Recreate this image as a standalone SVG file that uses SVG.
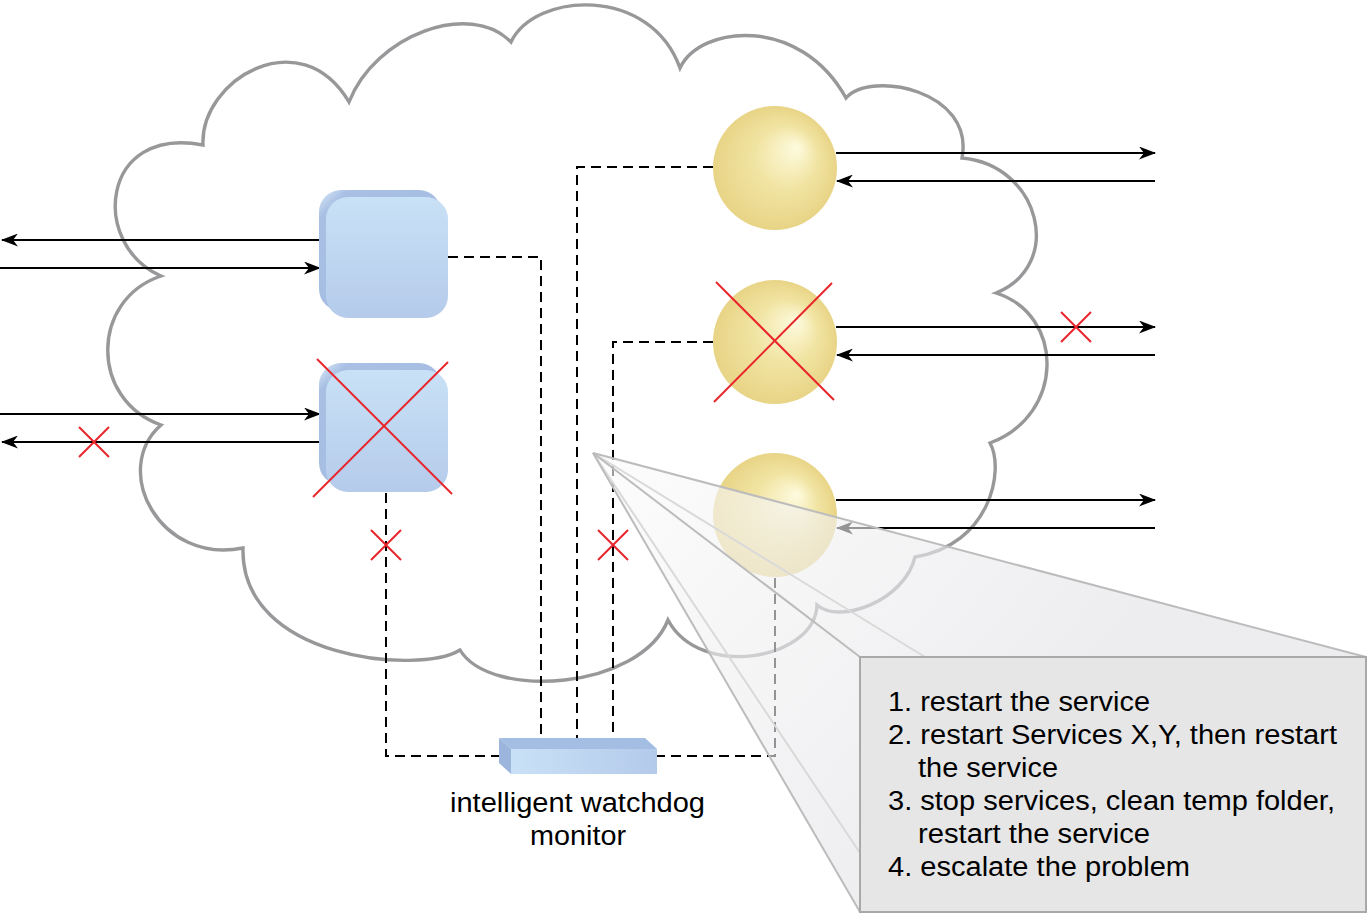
<svg xmlns="http://www.w3.org/2000/svg" width="1368" height="914" viewBox="0 0 1368 914">
<defs>
<style>
.cloud{fill:#fff;stroke:#98989a;stroke-width:3.4;stroke-linejoin:miter}
.arr{stroke:#000;stroke-width:2;fill:none;marker-end:url(#ah)}
.dash{stroke:#000;stroke-width:2;fill:none;stroke-dasharray:10 6}
.rx{stroke:#e8262b;stroke-width:2;fill:none}
.edge{stroke:#bcbcbc;stroke-width:2;fill:none}
.edge2{stroke:#d9d9d9;stroke-width:2;fill:none}
.txt{font-family:"Liberation Sans",Arial,Helvetica,sans-serif;font-size:27px;fill:#000}
</style>
<marker id="ah" markerUnits="userSpaceOnUse" markerWidth="17" markerHeight="13" refX="16" refY="6.5" orient="auto">
<path d="M0,0 L17,6.5 L0,13 L5,6.5 Z" fill="#000"/>
</marker>
<linearGradient id="cubeFront" x1="0" y1="0" x2="0" y2="1">
<stop offset="0" stop-color="#c9e1f6"/>
<stop offset="1" stop-color="#b5cbeb"/>
</linearGradient>
<linearGradient id="cubeBack" x1="0" y1="0" x2="1" y2="1">
<stop offset="0" stop-color="#dcebf9"/>
<stop offset="0.12" stop-color="#a9c0e4"/>
<stop offset="1" stop-color="#a3bbe1"/>
</linearGradient>
<radialGradient id="sph" cx="0.5" cy="0.5" r="0.5" fx="0.68" fy="0.33">
<stop offset="0" stop-color="#fefbdf"/>
<stop offset="0.5" stop-color="#f1e4a3"/>
<stop offset="1" stop-color="#e8d486"/>
</radialGradient>
<linearGradient id="wdFront" x1="0" y1="0" x2="1" y2="0">
<stop offset="0" stop-color="#c9e1f6"/>
<stop offset="1" stop-color="#b4caeb"/>
</linearGradient>
<linearGradient id="fan" gradientUnits="userSpaceOnUse" x1="593" y1="453" x2="1000" y2="800">
<stop offset="0" stop-color="#fbfbfb"/>
<stop offset="1" stop-color="#e2e1e5"/>
</linearGradient>
</defs>

<g id="cloud">
<path class="cloud" d="M161,276 C90,245 100,125 203,145 C200,80 300,20 349,102 C375,35 470,0 511,42 C535,-8 650,-15 680,68 C700,25 800,15 846,98 C870,70 975,90 962,158 C1040,165 1065,265 996,293 C1065,315 1065,415 990,443 C1005,470 990,545 915,557 C905,600 840,625 817,605 C815,660 700,680 668,620 C640,690 490,700 460,650 C420,675 240,660 243,548 C160,565 110,470 161,425 C90,400 90,300 161,276 Z"/>
</g>

<g id="connectors">
<line class="arr" x1="320" y1="240" x2="2" y2="240"/>
<line class="arr" x1="0" y1="268" x2="320" y2="268"/>
<line class="arr" x1="0" y1="414" x2="320" y2="414"/>
<line class="arr" x1="320" y1="442" x2="2" y2="442"/>
<line class="arr" x1="836" y1="153" x2="1155" y2="153"/>
<line class="arr" x1="1155" y1="181" x2="837" y2="181"/>
<line class="arr" x1="836" y1="327" x2="1155" y2="327"/>
<line class="arr" x1="1155" y1="355" x2="837" y2="355"/>
<line class="arr" x1="836" y1="500" x2="1155" y2="500"/>
<line class="arr" x1="1155" y1="528" x2="837" y2="528"/>
<path class="dash" d="M448,257 H541 V743"/>
<path class="dash" d="M713,167 H577 V743"/>
<path class="dash" d="M713,342 H613 V743"/>
<path class="dash" d="M386,493 V756 H505"/>
<path class="dash" d="M775,578 V756 H657"/>
</g>

<g id="node-cube1">
<rect x="319" y="190" width="122" height="121" rx="22" fill="url(#cubeBack)"/>
<rect x="326" y="197" width="122" height="121" rx="22" fill="url(#cubeFront)"/>
</g>

<g id="node-cube2">
<rect x="319" y="363" width="122" height="122" rx="22" fill="url(#cubeBack)"/>
<rect x="326" y="370" width="122" height="122" rx="22" fill="url(#cubeFront)"/>
<line class="rx" x1="317" y1="359" x2="452" y2="494"/>
<line class="rx" x1="448" y1="362" x2="313" y2="497"/>
</g>

<g id="node-sphere1">
<circle cx="775" cy="168" r="62" fill="url(#sph)"/>
</g>

<g id="node-sphere2">
<circle cx="775" cy="342" r="62" fill="url(#sph)"/>
<line class="rx" x1="716" y1="282" x2="834" y2="400"/>
<line class="rx" x1="832" y1="283" x2="714" y2="402"/>
</g>

<g id="node-sphere3">
<circle cx="775" cy="515" r="62" fill="url(#sph)"/>
</g>

<g id="failure-marks">
<path class="rx" d="M79,427 L109,457 M109,427 L79,457"/>
<path class="rx" d="M371,530 L401,560 M401,530 L371,560"/>
<path class="rx" d="M598,530 L628,560 M628,530 L598,560"/>
<path class="rx" d="M1061,312 L1091,342 M1091,312 L1061,342"/>
</g>

<g id="node-watchdog">
<polygon points="499,738 645,738 657,749 511,749" fill="#a3bde3"/>
<polygon points="499,738 511,749 511,774 499,763" fill="#9cb5dc"/>
<rect x="511" y="749" width="146" height="25" fill="url(#wdFront)"/>
<text class="txt" x="577.5" y="812" text-anchor="middle" textLength="255" lengthAdjust="spacingAndGlyphs">intelligent watchdog</text>
<text class="txt" x="578" y="845" text-anchor="middle" textLength="96" lengthAdjust="spacingAndGlyphs">monitor</text>
</g>

<g id="callout">
<path d="M593,453 L1366,657 L860,657 L860,912 Z" fill="url(#fan)" fill-opacity="0.62"/>
<line class="edge2" x1="593" y1="453" x2="925" y2="657"/>
<line class="edge2" x1="593" y1="453" x2="860" y2="853"/>
<line class="edge" x1="593" y1="453" x2="1366" y2="657"/>
<line class="edge" x1="593" y1="453" x2="860" y2="657"/>
<line class="edge" x1="593" y1="453" x2="860" y2="912"/>
<rect x="860" y="657" width="506" height="255" fill="#e6e6e6" stroke="#a9a9a9" stroke-width="2"/>
<text class="txt" x="888" y="711" textLength="262" lengthAdjust="spacingAndGlyphs">1. restart the service</text>
<text class="txt" x="888" y="744" textLength="449" lengthAdjust="spacingAndGlyphs">2. restart Services X,Y, then restart</text>
<text class="txt" x="918" y="777" textLength="140" lengthAdjust="spacingAndGlyphs">the service</text>
<text class="txt" x="888" y="810" textLength="447" lengthAdjust="spacingAndGlyphs">3. stop services, clean temp folder,</text>
<text class="txt" x="918" y="843" textLength="232" lengthAdjust="spacingAndGlyphs">restart the service</text>
<text class="txt" x="888" y="876" textLength="302" lengthAdjust="spacingAndGlyphs">4. escalate the problem</text>
</g>
</svg>
